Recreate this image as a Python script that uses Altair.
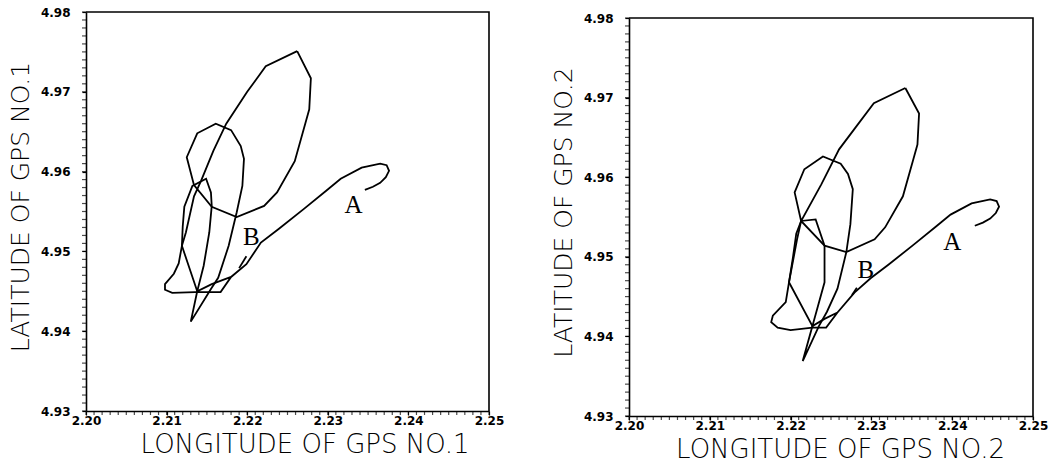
import altair as alt
import pandas as pd

# ---- GPS No.1 track (longitude / latitude) ----
# leg from the hook near A, down past B into the lower-left loop
gps1_lon_a = [2.2346, 2.2356, 2.2365, 2.2372, 2.2376, 2.2373, 2.2365, 2.2342, 2.2316, 2.2298,
              2.2270, 2.2239, 2.2217, 2.2199, 2.2180, 2.2167, 2.2135, 2.2107, 2.2098, 2.2098,
              2.2109, 2.2115, 2.2119, 2.2120, 2.2122, 2.2132, 2.2149, 2.2155, 2.2156, 2.2153,
              2.2146, 2.2138, 2.2156, 2.2180]
gps1_lat_a = [4.9577, 4.9581, 4.9586, 4.9593, 4.9601, 4.9608, 4.9610, 4.9605, 4.9591, 4.9576,
              4.9553, 4.9528, 4.9511, 4.9484, 4.9468, 4.9449, 4.9449, 4.9448, 4.9452, 4.9459,
              4.9472, 4.9485, 4.9507, 4.9531, 4.9556, 4.9582, 4.9591, 4.9574, 4.9557, 4.9524,
              4.9482, 4.9450, 4.9459, 4.9468]
# long diagonal, middle loop and the large upper loop
gps1_lon_b = [2.2262, 2.2223, 2.2200, 2.2174, 2.2158, 2.2143, 2.2134, 2.2124, 2.2119, 2.2138,
              2.2130, 2.2155, 2.2164, 2.2177, 2.2187, 2.2194, 2.2196, 2.2192, 2.2180, 2.2161,
              2.2138, 2.2125, 2.2134, 2.2156, 2.2187, 2.2221, 2.2237, 2.2259, 2.2272, 2.2277,
              2.2279, 2.2262]
gps1_lat_b = [4.9751, 4.9732, 4.9700, 4.9660, 4.9626, 4.9589, 4.9569, 4.9524, 4.9507, 4.9450,
              4.9412, 4.9453, 4.9467, 4.9507, 4.9549, 4.9582, 4.9616, 4.9632, 4.9652, 4.9660,
              4.9648, 4.9618, 4.9583, 4.9556, 4.9543, 4.9557, 4.9574, 4.9613, 4.9660, 4.9678,
              4.9717, 4.9751]
gps1_lon_mark = [2.2190, 2.2199]
gps1_lat_mark = [4.9479, 4.9494]

# ---- GPS No.2 track ----
gps2_lon_a = [2.2428, 2.2438, 2.2447, 2.2454, 2.2458, 2.2455, 2.2447, 2.2424, 2.2398, 2.2380,
              2.2352, 2.2321, 2.2299, 2.2279, 2.2258, 2.2244, 2.2227, 2.2200, 2.2184, 2.2176,
              2.2178, 2.2194, 2.2198, 2.2203, 2.2207, 2.2213, 2.2231, 2.2242, 2.2242, 2.2227,
              2.2242, 2.2258]
gps2_lat_a = [4.9539, 4.9543, 4.9548, 4.9555, 4.9563, 4.9570, 4.9572, 4.9567, 4.9553, 4.9538,
              4.9515, 4.9490, 4.9473, 4.9455, 4.9430, 4.9411, 4.9411, 4.9408, 4.9411, 4.9418,
              4.9426, 4.9443, 4.9468, 4.9500, 4.9529, 4.9545, 4.9547, 4.9514, 4.9468, 4.9413,
              4.9422, 4.9430]
gps2_lon_b = [2.2342, 2.2303, 2.2280, 2.2260, 2.2238, 2.2213, 2.2208, 2.2198, 2.2227, 2.2215,
              2.2235, 2.2245, 2.2258, 2.2269, 2.2274, 2.2277, 2.2271, 2.2262, 2.2240, 2.2217,
              2.2205, 2.2213, 2.2242, 2.2269, 2.2304, 2.2317, 2.2339, 2.2352, 2.2357, 2.2359,
              2.2342]
gps2_lat_b = [4.9712, 4.9693, 4.9662, 4.9635, 4.9591, 4.9545, 4.9522, 4.9468, 4.9413, 4.9369,
              4.9413, 4.9431, 4.9460, 4.9506, 4.9541, 4.9585, 4.9604, 4.9617, 4.9626, 4.9610,
              4.9581, 4.9545, 4.9514, 4.9506, 4.9522, 4.9537, 4.9576, 4.9623, 4.9641, 4.9680,
              4.9712]
gps2_lon_mark = [2.2276, 2.2282]
gps2_lat_mark = [4.9452, 4.9461]

# point labels
label_text = ["A", "B"]
gps1_label_lon = [2.2332, 2.2205]
gps1_label_lat = [4.9558, 4.9518]
gps2_label_lon = [2.2400, 2.2293]
gps2_label_lat = [4.9519, 4.9483]

# plot limits and axis ticks: labelled every 0.01, small ticks every 0.001
lon_lim = [2.20, 2.25]
lat_lim = [4.93, 4.98]
lon_major = [2.20, 2.21, 2.22, 2.23, 2.24, 2.25]
lat_major = [4.93, 4.94, 4.95, 4.96, 4.97, 4.98]
lon_minor = [round(2.20 + i * 0.001, 3) for i in range(51)]
lat_minor = [round(4.93 + i * 0.001, 3) for i in range(51)]

TICK = 4


def legs_frame(legs):
    rows = []
    for name, lons, lats in legs:
        for i, (x, y) in enumerate(zip(lons, lats)):
            rows.append({"leg": name, "seq": i, "lon": x, "lat": y})
    return pd.DataFrame(rows)


def panel(legs, lab_lon, lab_lat, unit, w, h, top, title_shift):
    """One plotter sheet; `top` leaves a blank strip above the plotting box."""
    df = legs_frame(legs)
    labels = pd.DataFrame({"txt": label_text, "lon": lab_lon, "lat": lab_lat})
    # top and right edges of the plotting box
    box = pd.DataFrame({"lon": [lon_lim[0], lon_lim[1], lon_lim[1]],
                        "lat": [lat_lim[1], lat_lim[1], lat_lim[0]]})
    common = dict(grid=False, tickSize=TICK, tickColor="black", tickWidth=1.2,
                  domainColor="black", domainWidth=1.6, format=".2f",
                  labelFont="DejaVu Sans", labelFontWeight="bold", labelFontSize=12,
                  labelColor="black", labelFlush=False, labelOverlap=False,
                  titleFont="DejaVu Sans", titleFontWeight=300,
                  titleColor="black")
    x_axis = alt.Axis(values=lon_major, labelPadding=0, titleFontSize=26,
                      title=f"LONGITUDE OF GPS NO.{unit}", titlePadding=5,
                      titleX=w / 2 + title_shift, **common)
    y_axis = alt.Axis(values=lat_major, labelPadding=12, titleFontSize=25,
                      title=f"LATITUDE OF GPS NO.{unit}", titlePadding=7,
                      titleY=(h + top) / 2 - 5, **common)
    xs = alt.Scale(domain=lon_lim, nice=False, zero=False)
    ys = alt.Scale(domain=lat_lim, nice=False, zero=False, range=[h, top])

    track = alt.Chart(df).mark_line(color="black", strokeWidth=1.8).encode(
        x=alt.X("lon:Q", scale=xs, axis=x_axis),
        y=alt.Y("lat:Q", scale=ys, axis=y_axis),
        detail="leg:N",
        order="seq:Q",
    )
    frame = alt.Chart(box).mark_line(color="black", strokeWidth=1.6).encode(
        x=alt.X("lon:Q", scale=xs, axis=x_axis),
        y=alt.Y("lat:Q", scale=ys, axis=y_axis),
    )
    text = alt.Chart(labels).mark_text(font="Liberation Serif", fontSize=25, color="black",
                                       align="center", baseline="middle").encode(
        x=alt.X("lon:Q", scale=xs, axis=x_axis),
        y=alt.Y("lat:Q", scale=ys, axis=y_axis),
        text="txt:N",
    )
    x_small = alt.Chart(pd.DataFrame({"lon": lon_minor})).mark_tick(
        orient="vertical", size=TICK, thickness=1.2, color="black").encode(
        x=alt.X("lon:Q", scale=xs, axis=x_axis),
        y=alt.value(h + TICK / 2),
    )
    y_small = alt.Chart(pd.DataFrame({"lat": lat_minor})).mark_tick(
        orient="horizontal", size=TICK, thickness=1.2, color="black").encode(
        y=alt.Y("lat:Q", scale=ys, axis=y_axis),
        x=alt.value(-TICK / 2),
    )
    return alt.layer(frame, track, text, x_small, y_small).properties(width=w, height=h)


left = panel(
    [("a", gps1_lon_a, gps1_lat_a), ("b", gps1_lon_b, gps1_lat_b), ("m", gps1_lon_mark, gps1_lat_mark)],
    gps1_label_lon, gps1_label_lat, 1, 403, 399, 0, 17)
right = panel(
    [("a", gps2_lon_a, gps2_lat_a), ("b", gps2_lon_b, gps2_lat_b), ("m", gps2_lon_mark, gps2_lat_mark)],
    gps2_label_lon, gps2_label_lat, 2, 404, 404, 6, 9)

chart = alt.hconcat(left, right, spacing=47).properties(
    padding={"left": 8, "top": 6, "right": 5, "bottom": 2},
    background="white",
).configure_view(stroke=None)

chart.save("out.html", embed_options={"renderer": "svg", "actions": False})
